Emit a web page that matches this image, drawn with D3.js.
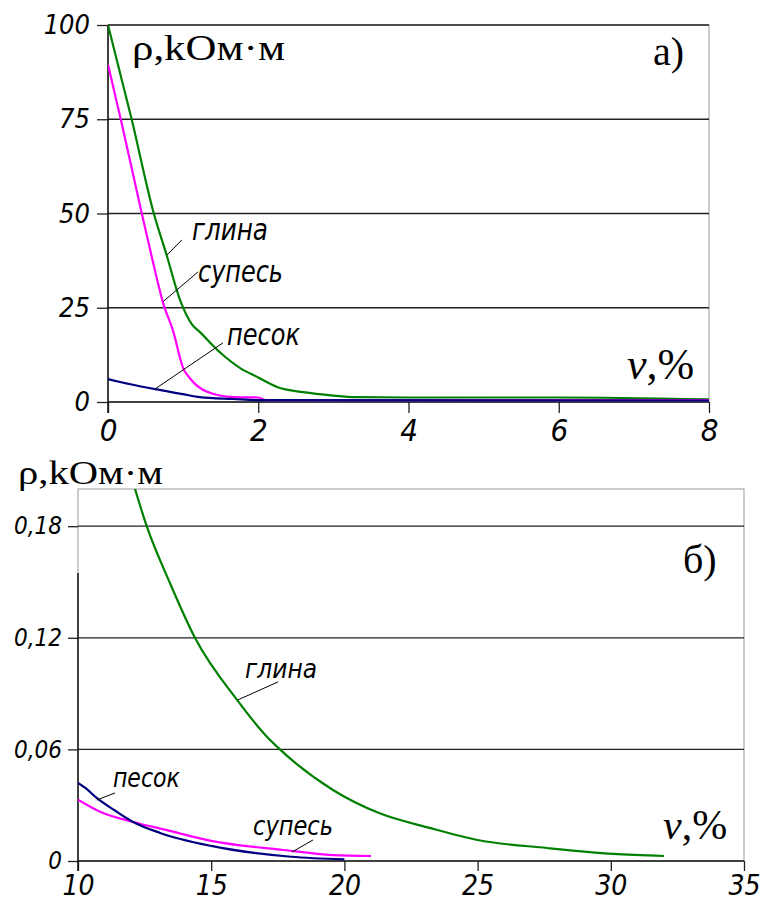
<!DOCTYPE html>
<html>
<head>
<meta charset="utf-8">
<script src="https://cdn.jsdelivr.net/npm/d3@7"></script>
<style>
  body { margin: 0; background: #fff; }
  svg { display: block; }
  .gost { font-family: "DejaVu Sans Condensed", "DejaVu Sans", sans-serif; font-stretch: condensed; font-style: oblique; fill: #000; }
  .serif { font-family: "Liberation Serif", "Times New Roman", serif; fill: #000; }
</style>
</head>
<body>
<svg id="chart" width="760" height="901"></svg>
<script>
// ---- panel a) : 0..8 %
var aTicksX = [0, 2, 4, 6, 8];
var aTicksY = [0, 25, 50, 75, 100];
var aClayX  = [0, 0.315, 0.61, 0.78, 0.96, 1.12, 1.22, 1.5, 1.76, 2.0, 2.25, 2.6, 3.0, 3.3, 4.0, 6.0, 8.0];
var aClayY  = [100, 75, 50, 39, 27, 20.5, 18.6, 13, 9, 6.5, 4, 2.6, 1.7, 1.3, 1.2, 1.2, 0.7];
var aSandyX = [0, 0.17, 0.45, 0.6, 0.73, 0.87, 1.0, 1.09, 1.32, 1.67, 2.0, 2.1, 8.0];
var aSandyY = [89.5, 75, 50, 37, 26.5, 18.6, 9, 6.3, 2.7, 1.3, 1.2, 0.5, 0.5];
var aSandX  = [0, 0.3, 0.63, 1.0, 1.22, 1.67, 2.0, 8.0];
var aSandY  = [6.1, 4.7, 3.4, 2.1, 1.3, 0.8, 0.5, 0.4];

// ---- panel б) : 10..35 %
var bTicksX = [10, 15, 20, 25, 30, 35];
var bTicksY = [0, 0.06, 0.12, 0.18];
var bClayX  = [12.14, 12.58, 13.45, 14.39, 15.97, 17.1, 17.58, 19.57, 21.3, 23.2, 25.0, 27.6, 30.1, 32.0];
var bClayY  = [0.2, 0.18, 0.1495, 0.12, 0.0866, 0.0667, 0.06, 0.0382, 0.0258, 0.0178, 0.0113, 0.007, 0.0038, 0.0027];
var bSandyX = [10, 10.83, 12.07, 13.3, 15, 17.7, 19.57, 21];
var bSandyY = [0.033, 0.0265, 0.021, 0.0167, 0.0108, 0.0059, 0.0032, 0.0027];
var bSandX  = [10, 10.3, 10.7, 11.4, 12.07, 13.08, 15, 18.0, 20];
var bSandY  = [0.042, 0.039, 0.0339, 0.027, 0.021, 0.0151, 0.0081, 0.0023, 0.0009];

var names = ["глина", "супесь", "песок"];
var colors = {"глина": "#008000", "супесь": "#ff00ff", "песок": "#000080"};

function zip(xs, ys) { return xs.map(function(x, i) { return [x, ys[i]]; }); }

var panels = [
  { left: 108, top: 25, right: 709, bottom: 402, xDom: [0, 8], yDom: [0, 100],
    ticksX: aTicksX, ticksY: aTicksY, fmt: d3.format("d"),
    ySize: 27, xSize: 31, yPad: 7, xPad: 6, tick: 11, axisTop: 25,
    series: {"глина": zip(aClayX, aClayY), "супесь": zip(aSandyX, aSandyY), "песок": zip(aSandX, aSandY)},
    // label [x,y], leader [x1,y1,x2,y2] in data units, label width
    notes: [
      {name: "глина",  at: [1.118, 43.0], lead: [0.985, 43.0, 0.785, 39.0], w: 76},
      {name: "супесь", at: [1.198, 31.9], lead: [1.198, 34.5, 0.732, 26.6], w: 85},
      {name: "песок",  at: [1.584, 15.1], lead: [1.531, 15.7, 0.626, 3.45], w: 73}
    ], noteSize: 30,
    title: {x: 132, y: 60, w: 153, size: 36}, tag: {text: "a)", x: 653, y: 65, size: 40},
    vlab: {x: 627, y: 379, size: 44} },
  { left: 78, top: 489, right: 744, bottom: 861, xDom: [10, 35], yDom: [0, 0.2],
    ticksX: bTicksX, ticksY: bTicksY, fmt: function(d) { return d === 0 ? "0" : d3.format(".2f")(d).replace(".", ","); },
    ySize: 24, xSize: 28, yPad: 6, xPad: 4, tick: 10, axisTop: 573,
    series: {"глина": zip(bClayX, bClayY), "супесь": zip(bSandyX, bSandyY), "песок": zip(bSandX, bSandY)},
    notes: [
      {name: "глина",  at: [16.27, 0.0985], lead: [17.51, 0.0963, 16.0, 0.0866], w: 72},
      {name: "песок",  at: [11.31, 0.0398], lead: [11.39, 0.0366, 10.71, 0.0328], w: 67},
      {name: "супесь", at: [16.57, 0.0140], lead: [18.82, 0.0113, 18.03, 0.0048], w: 80}
    ], noteSize: 26,
    title: {x: 18, y: 484, w: 145, size: 33}, tag: {text: "б)", x: 683, y: 573, size: 40},
    vlab: {x: 663, y: 839, size: 42} }
];

var svg = d3.select("#chart");

panels.forEach(function(p, pi) {
  var w = p.right - p.left, h = p.bottom - p.top;
  var x = d3.scaleLinear().domain(p.xDom).range([0, w]);
  var y = d3.scaleLinear().domain(p.yDom).range([h, 0]);
  var g = svg.append("g").attr("transform", "translate(" + p.left + "," + p.top + ")");

  var clipId = "clip" + pi;
  g.append("clipPath").attr("id", clipId).append("rect").attr("width", w).attr("height", h + 2).attr("y", -1);

  // frame
  g.append("rect").attr("width", w).attr("height", h)
    .attr("fill", "none").attr("stroke", "#999").attr("stroke-width", 1);

  // grid
  g.selectAll(".grid").data(p.ticksY.filter(function(d) { return d > 0; }))
    .enter().append("line")
    .attr("x1", 0).attr("x2", w)
    .attr("y1", function(d) { return y(d); }).attr("y2", function(d) { return y(d); })
    .attr("stroke", "#222").attr("stroke-width", 1.3);

  // y axis
  var ya = g.append("g").call(d3.axisLeft(y).tickValues(p.ticksY).tickFormat(p.fmt).tickSize(p.tick).tickPadding(p.yPad));
  ya.select(".domain").remove();
  ya.selectAll(".tick line").attr("stroke", "#222").attr("stroke-width", 1.3);
  ya.selectAll(".tick text").attr("class", "gost").style("font-size", p.ySize + "px");

  // x axis
  var xa = g.append("g").attr("transform", "translate(0," + h + ")")
    .call(d3.axisBottom(x).tickValues(p.ticksX).tickSize(p.tick).tickPadding(p.xPad));
  xa.select(".domain").remove();
  xa.selectAll(".tick line").attr("stroke", "#222").attr("stroke-width", 1.3);
  xa.selectAll(".tick text").attr("class", "gost").style("font-size", p.xSize + "px");

  // axis lines
  g.append("line").attr("x1", 0).attr("x2", w).attr("y1", h).attr("y2", h)
    .attr("stroke", "#111").attr("stroke-width", 1.5);
  g.append("line").attr("x1", 0).attr("x2", 0).attr("y1", p.axisTop - p.top).attr("y2", h + p.tick)
    .attr("stroke", "#111").attr("stroke-width", 1.5);

  // curves
  var line = d3.line().x(function(d) { return x(d[0]); }).y(function(d) { return y(d[1]); })
    .curve(d3.curveMonotoneX);
  names.forEach(function(n) {
    g.append("path").datum(p.series[n])
      .attr("clip-path", "url(#" + clipId + ")")
      .attr("d", line).attr("fill", "none")
      .attr("stroke", colors[n]).attr("stroke-width", 2.2)
      .attr("stroke-linejoin", "round");
  });

  // series labels with leaders
  p.notes.forEach(function(nt) {
    g.append("line")
      .attr("x1", x(nt.lead[0])).attr("y1", y(nt.lead[1]))
      .attr("x2", x(nt.lead[2])).attr("y2", y(nt.lead[3]))
      .attr("stroke", "#000").attr("stroke-width", 1);
    g.append("text").attr("class", "gost")
      .attr("x", x(nt.at[0])).attr("y", y(nt.at[1]))
      .attr("textLength", nt.w).attr("lengthAdjust", "spacingAndGlyphs")
      .style("font-size", p.noteSize + "px")
      .text(nt.name);
  });

  // titles
  svg.append("text").attr("class", "serif")
    .attr("x", p.title.x).attr("y", p.title.y)
    .attr("textLength", p.title.w).attr("lengthAdjust", "spacingAndGlyphs")
    .style("font-size", p.title.size + "px")
    .text("ρ,kOм·м");
  svg.append("text").attr("class", "serif")
    .attr("x", p.tag.x).attr("y", p.tag.y)
    .style("font-size", p.tag.size + "px")
    .text(p.tag.text);
  var vt = svg.append("text").attr("class", "serif")
    .attr("x", p.vlab.x).attr("y", p.vlab.y)
    .style("font-size", p.vlab.size + "px");
  vt.append("tspan").style("font-style", "italic").text("v");
  vt.append("tspan").text(",%");
});
</script>
</body>
</html>
